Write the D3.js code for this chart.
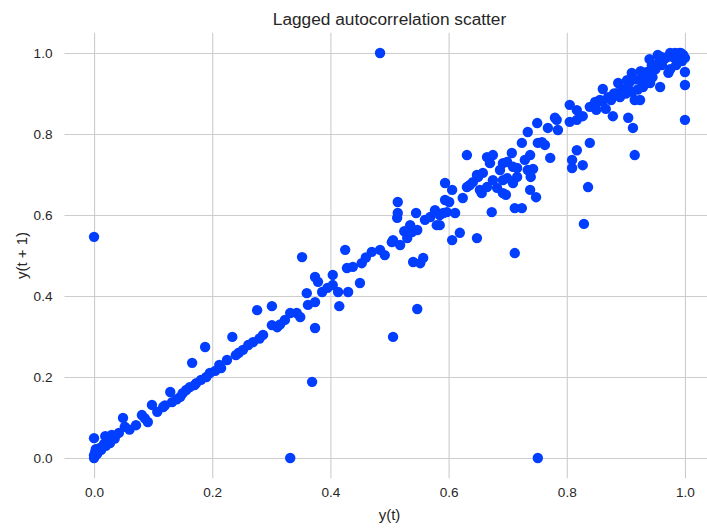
<!DOCTYPE html>
<html>
<head>
<meta charset="utf-8">
<script src="https://cdn.jsdelivr.net/npm/d3@7"></script>
<style>
  html, body { margin: 0; padding: 0; background: #ffffff; }
  svg { display: block; }
  text { font-family: "Liberation Sans", Arial, "DejaVu Sans", sans-serif; fill: #262626; }
</style>
</head>
<body>
<svg id="chart" width="707" height="528"></svg>
<script>
// ---- Data: y(t) and y(t + 1) ----
const titleText = "Lagged autocorrelation scatter";
const xLabelText = "y(t)";
const yLabelText = "y(t + 1)";
const xTicks = [0.0, 0.2, 0.4, 0.6, 0.8, 1.0];
const yTicks = [0.0, 0.2, 0.4, 0.6, 0.8, 1.0];

const lagX = [
  0.000,0.000,0.002,0.003,0.000,0.007,0.010,0.017,0.019,0.027,0.030,0.000,0.005,0.012,0.020,
  0.049,0.052,0.071,0.081,0.091,0.098,0.107,0.117,0.129,0.132,0.146,0.156,0.162,0.173,0.181,0.196,0.166,0.188,
  0.060,0.086,0.120,0.140,0.150,0.170,0.190,0.205,
  0.212,0.225,0.234,0.240,0.252,0.261,0.269,0.276,0.286,0.301,0.301,0.310,0.323,0.332,0.343,0.349,0.352,0.360,0.362,0.374,0.374,0.379,0.386,0.374,0.369,0.332,
  0.404,0.404,0.413,0.415,0.430,0.425,0.428,0.438,0.453,0.450,0.470,0.484,0.492,0.504,0.506,0.484,0.506,0.518,0.530,0.538,0.535,0.547,0.513,0.514,0.514,0.545,0.540,0.552,0.557,0.547,
  0.560,0.569,0.577,0.580,0.591,0.594,0.597,0.611,0.606,0.619,0.648,0.594,0.606,0.624,0.631,0.641,0.650,0.656,0.665,0.673,0.675,0.692,0.692,0.709,0.712,0.724,0.712,
  0.631,0.665,0.675,0.670,0.692,0.707,0.716,0.729,0.739,0.743,0.748,0.738,0.772,0.763,0.758,0.724,0.716,0.697,0.738,0.734,0.750,0.768,0.783,0.785,
  0.658,0.648,0.636,0.653,0.601,0.585,0.682,0.687,0.699,0.751,0.780,0.734,0.709,0.699,
  0.805,0.817,0.805,0.817,0.827,0.839,0.848,0.856,0.861,0.870,0.866,0.878,0.875,0.885,0.887,0.890,0.902,0.902,0.904,0.912,
  0.910,0.910,0.915,0.924,0.924,0.929,0.936,0.944,0.941,0.958,0.954,0.961,0.972,0.975,0.983,0.988,0.997,1.000,1.000,1.000,
  1.000,0.915,0.839,0.817,0.809,0.809,0.827,0.836,0.829,0.751,
  0.960,0.965,0.980,0.990,0.995,0.975,0.950,0.930,0.920,0.905,0.895,0.880,0.860,0.850,
  0.940,0.955,0.970,0.985,0.990,0.945,0.925,0.915,0.935,0.900,0.985,0.993,
  0.035,0.042,0.215,0.245,0.280,0.315,0.395,0.460,0.525,0.585
];
const lagY = [
  0.000,0.007,0.015,0.022,0.049,0.015,0.025,0.035,0.054,0.037,0.057,0.546,0.010,0.020,0.030,
  0.099,0.077,0.081,0.106,0.089,0.131,0.114,0.126,0.163,0.138,0.151,0.168,0.175,0.185,0.193,0.210,0.235,0.274,
  0.070,0.098,0.130,0.145,0.160,0.180,0.200,0.215,
  0.230,0.242,0.299,0.254,0.267,0.279,0.286,0.365,0.304,0.328,0.375,0.323,0.341,0.358,0.358,0.348,0.496,0.407,0.378,0.385,0.447,0.435,0.410,0.321,0.188,0.000,
  0.452,0.427,0.410,0.375,0.410,0.514,0.469,0.472,0.481,0.432,0.509,0.514,0.501,0.533,0.299,1.000,0.538,0.526,0.543,0.558,0.575,0.563,0.593,0.605,0.632,0.605,0.484,0.481,0.494,0.368,
  0.588,0.595,0.612,0.575,0.605,0.637,0.607,0.605,0.538,0.556,0.543,0.679,0.662,0.642,0.669,0.681,0.694,0.654,0.669,0.607,0.686,0.654,0.686,0.679,0.617,0.617,0.506,
  0.748,0.743,0.748,0.728,0.728,0.753,0.716,0.736,0.694,0.714,0.644,0.662,0.741,0.773,0.780,0.778,0.694,0.650,0.748,0.805,0.827,0.815,0.835,0.810,
  0.704,0.699,0.674,0.662,0.632,0.575,0.667,0.711,0.731,0.778,0.840,0.711,0.719,0.691,
  0.872,0.859,0.830,0.835,0.844,0.867,0.879,0.884,0.911,0.891,0.862,0.844,0.884,0.901,0.926,0.891,0.914,0.933,0.840,0.815,
  0.904,0.951,0.884,0.884,0.933,0.916,0.953,0.970,0.926,0.916,0.995,0.970,0.951,1.000,1.000,0.983,0.995,0.988,0.953,0.921,
  0.835,0.748,0.778,0.760,0.736,0.716,0.723,0.669,0.578,0.000,
  0.990,0.985,0.990,1.000,0.980,0.960,0.960,0.950,0.910,0.925,0.910,0.900,0.880,0.860,
  0.985,0.975,0.990,0.995,0.990,0.940,0.955,0.935,0.930,0.900,0.970,1.000,
  0.048,0.062,0.222,0.260,0.295,0.330,0.420,0.495,0.560,0.600
];

// ---- Layout ----
const plot = { left: 64.5, right: 714.5, top: 32.75, bottom: 478.25 };
const pointColor = "#023eff";
const gridColor = "#cccccc";
const fontStack = '"Liberation Sans", Arial, sans-serif';

const svg = d3.select("#chart");

const x = d3.scaleLinear().domain([-0.05, 1.05]).range([plot.left, plot.right]);
const y = d3.scaleLinear().domain([-0.05, 1.05]).range([plot.bottom, plot.top]);

// Grid via axes
svg.append("g")
  .attr("transform", `translate(0,${plot.bottom})`)
  .call(d3.axisBottom(x).tickValues(xTicks).tickSize(-(plot.bottom - plot.top)).tickFormat(""))
  .call(g => g.select(".domain").remove())
  .call(g => g.selectAll("line").attr("stroke", gridColor).attr("stroke-width", 1.1));

svg.append("g")
  .attr("transform", `translate(${plot.left},0)`)
  .call(d3.axisLeft(y).tickValues(yTicks).tickSize(-(plot.right - plot.left)).tickFormat(""))
  .call(g => g.select(".domain").remove())
  .call(g => g.selectAll("line").attr("stroke", gridColor).attr("stroke-width", 1.1));

// Tick labels via axes
const fmt = d3.format(".1f");
svg.append("g")
  .attr("transform", `translate(0,${plot.bottom})`)
  .call(d3.axisBottom(x).tickValues(xTicks).tickSize(0).tickPadding(9).tickFormat(fmt))
  .call(g => g.select(".domain").remove())
  .call(g => g.selectAll("text").attr("font-size", "13.6px").attr("fill", "#262626")
    .style("font-family", fontStack));

svg.append("g")
  .attr("transform", `translate(${plot.left},0)`)
  .call(d3.axisLeft(y).tickValues(yTicks).tickSize(0).tickPadding(12).tickFormat(fmt))
  .call(g => g.select(".domain").remove())
  .call(g => g.selectAll("text").attr("font-size", "13.6px").attr("fill", "#262626")
    .style("font-family", fontStack));

// Points
const n = Math.min(lagX.length, lagY.length);
const pts = d3.range(n).map(i => ({ x: lagX[i], y: lagY[i] }));
svg.append("g")
  .selectAll("circle")
  .data(pts)
  .join("circle")
  .attr("cx", d => x(d.x))
  .attr("cy", d => y(d.y))
  .attr("r", 5.2)
  .attr("fill", pointColor);

// Title and axis labels
const cx = (plot.left + plot.right) / 2;
svg.append("text")
  .attr("x", cx).attr("y", 25)
  .attr("text-anchor", "middle")
  .attr("font-size", "17.3px")
  .text(titleText);

svg.append("text")
  .attr("x", cx).attr("y", 520)
  .attr("text-anchor", "middle")
  .attr("font-size", "15px")
  .text(xLabelText);

svg.append("text")
  .attr("transform", `translate(27,${(plot.top + plot.bottom) / 2}) rotate(-90)`)
  .attr("text-anchor", "middle")
  .attr("font-size", "15px")
  .text(yLabelText);
</script>
</body>
</html>
